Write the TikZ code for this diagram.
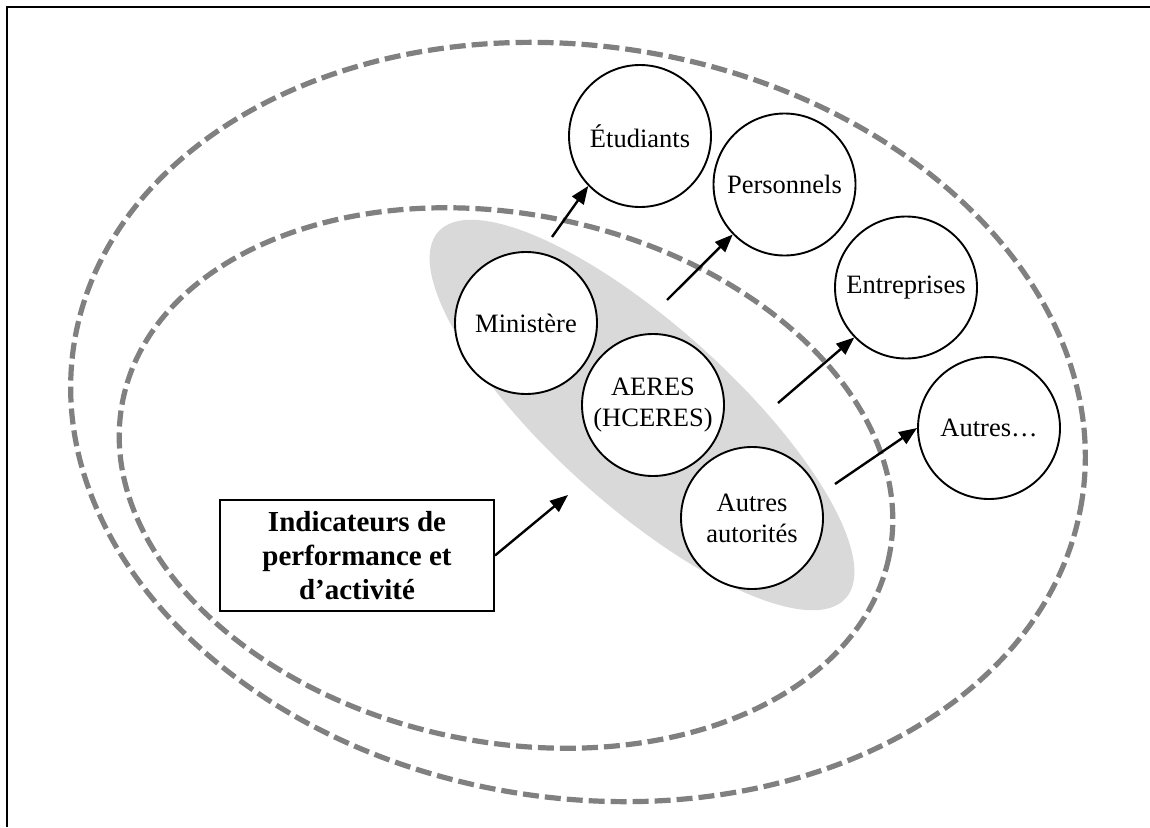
\documentclass[tikz,border=0pt]{standalone}
\usepackage{fontspec}
\setmainfont{Liberation Serif}
\usetikzlibrary{arrows.meta,shapes.geometric}
\definecolor{dashgray}{RGB}{128,128,128}
\definecolor{fillgray}{RGB}{217,217,217}
\begin{document}
\begin{tikzpicture}[x=1pt,y=-1pt,
  actor/.style={circle,draw,line width=1.9pt,fill=white,minimum size=142pt,inner sep=0pt,align=center,font=\fontsize{26.5}{31}\selectfont},
  zone/.style={draw=dashgray,line width=5.2pt,dash pattern=on 16pt off 6pt},
  arr/.style={line width=2.4pt,-{Triangle[length=18pt,width=14pt]}},
  indbox/.style={draw,line width=1.9pt,fill=white,minimum width=274pt,minimum height=111pt,inner sep=0pt,align=center,font=\bfseries\fontsize{29}{34}\selectfont}
  ]
\useasboundingbox (0,0) rectangle (1150,827);
\fill[white] (0,0) rectangle (1150,827);
\draw[line width=2.4pt] (7,827) -- (7,7) -- (1150,7);
% zones
\draw[zone, rotate around={-8.7:(578,422)}] (578,422) ellipse (510 and 376);
\draw[zone, rotate around={-11.5:(506,478)}] (506,478) ellipse (391 and 264);
% authorities group
\fill[fillgray, rotate around={-42:(642,415)}] (642,415) ellipse (274 and 90);
% circles
\node[actor] (min) at (526,323) {Ministère};
\node[actor] (aer) at (653,405) {AERES\\(HCERES)};
\node[actor] (aut) at (752,518) {Autres\\autorités};
\node[actor] (etu) at (640,136) {Étudiants};
\node[actor] (per) at (784.5,184.5) {Personnels};
\node[actor] (ent) at (906,287.5) {Entreprises};
\node[actor] (oth) at (989,428) {Autres…};
% box
\node[indbox] (ind) at (357,555.5) {Indicateurs de\\performance et\\d’activité};
% free ends on the group
\coordinate (t0) at (568,495);
\coordinate (t1) at (552,237);
\coordinate (t2) at (667,300);
\coordinate (t3) at (778,403);
\coordinate (t4) at (835,484);
% arrows
\draw[arr] (ind.east) -- (t0);
\draw[arr] (t1) -- (etu.224);
\draw[arr] (t2) -- (per.224);
\draw[arr] (t3) -- (ent.224);
\draw[arr] (t4) -- (oth.180);
\end{tikzpicture}
\end{document}
